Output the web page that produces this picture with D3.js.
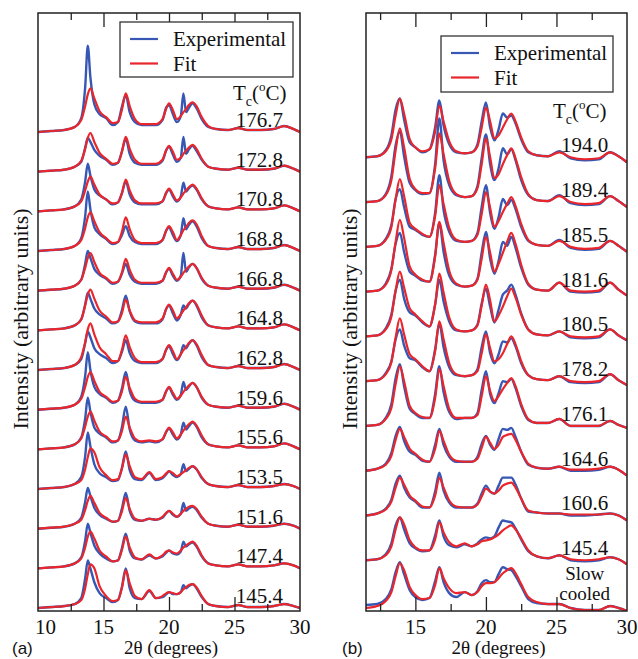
<!DOCTYPE html>
<html>
<head>
<meta charset="utf-8">
<script src="https://cdnjs.cloudflare.com/ajax/libs/d3/7.8.5/d3.min.js"></script>
<style>
  body { margin: 0; background: #fff; }
  svg { display: block; }
</style>
</head>
<body>
<div id="chart"></div>
<script>

// 2theta grid (degrees) for each panel
const gridA = [10, 11, 12, 12.8, 13.3, 13.6, 13.8, 14.0, 14.3, 14.7, 15.2, 15.7, 16.1, 16.4, 16.7, 17.0, 17.4, 17.9, 18.5, 19.0, 19.5, 19.8, 20.0, 20.3, 20.6, 20.9, 21.1, 21.3, 21.5, 21.8, 22.1, 22.5, 23.0, 23.6, 24.5, 25.3, 26.0, 27.0, 28.0, 28.8, 29.5, 30];
const gridB = [11.5, 12.3, 12.9, 13.3, 13.6, 13.9, 14.2, 14.6, 15.0, 15.5, 16.0, 16.4, 16.7, 17.0, 17.4, 17.9, 18.5, 19.0, 19.4, 19.7, 20.0, 20.3, 20.6, 20.9, 21.2, 21.5, 21.8, 22.1, 22.5, 23.0, 23.6, 24.4, 25.2, 26.0, 27.0, 28.0, 28.8, 29.4, 30.0];

const tempsA = ["176.7", "172.8", "170.8", "168.8", "166.8", "164.8", "162.8", "159.6", "155.6", "153.5", "151.6", "147.4", "145.4"];
const tempsB = ["194.0", "189.4", "185.5", "181.6", "180.5", "178.2", "176.1", "164.6", "160.6", "145.4", "Slow cooled"];

const ticksMajor = [15, 20, 25];
const ticksMinor = [12.5, 17.5, 22.5, 27.5];
const labelsA = [10, 15, 20, 25, 30];
const labelsB = [15, 20, 25, 30];

// intensities above each trace's own baseline (arbitrary units), top trace first
const fitA = [
  [0,1,2,5,12,26,38,44,34,21,15,9,10,22,39,26,13,8,8,8,13,24,29,22,13,16,20,23,27,30,26,15,6,3,2,4,2,2,3,6,3,0],
  [0,1,2,5,11,23,34,39,30,19,13,8,9,20,35,23,12,8,8,8,12,22,26,20,12,14,18,21,24,27,23,13,5,3,2,4,2,2,3,6,3,0],
  [0,1,2,5,10,21,30,35,27,17,12,8,9,18,32,21,11,8,8,8,10,19,23,17,11,14,18,21,24,27,23,13,5,3,2,4,2,2,3,6,3,0],
  [0,1,2,5,11,23,34,39,30,19,13,8,9,19,34,22,11,8,8,8,11,21,25,19,11,16,21,24,28,31,27,15,5,3,2,4,2,2,3,6,3,0],
  [0,1,2,5,11,23,33,38,29,18,13,8,9,18,32,21,11,8,8,8,10,19,23,17,11,14,18,21,24,27,23,13,5,3,2,4,2,2,3,6,3,0],
  [0,1,2,5,11,25,36,41,32,20,14,8,9,17,31,20,10,8,8,8,12,22,26,20,12,16,20,23,27,30,26,15,5,3,2,4,2,2,3,6,3,0],
  [0,1,2,5,13,28,41,47,36,23,16,9,9,20,35,23,12,8,8,8,11,21,25,19,11,16,20,23,27,30,26,15,5,3,2,4,2,2,3,6,3,0],
  [0,1,2,5,11,23,33,38,29,18,13,8,9,18,33,22,11,8,8,8,10,19,23,17,11,14,18,21,24,27,23,13,5,3,2,4,2,2,3,6,3,0],
  [0,1,2,5,11,23,33,38,29,18,13,8,9,18,33,22,11,8,9,8,10,18,22,17,11,15,19,22,25,28,24,14,5,3,2,4,2,2,3,6,3,0],
  [0,1,2,5,9,20,32,41,37,22,14,9,10,20,35,23,12,10,17,10,12,16,18,16,13,15,17,19,21,23,20,12,5,3,2,4,2,2,3,5,3,0],
  [0,1,2,5,9,19,28,33,26,16,11,7,8,17,31,20,10,8,10,9,12,16,18,15,12,15,18,20,22,23,20,12,5,3,2,4,2,2,3,5,3,0],
  [0,1,2,5,10,21,32,37,30,18,12,7,8,18,32,21,11,9,14,10,13,17,18,16,15,18,21,23,25,27,23,13,5,3,2,4,2,2,3,5,3,0],
  [0,1,2,4,8,20,34,44,40,22,12,7,8,20,38,25,12,9,18,10,12,15,16,15,14,16,19,21,23,24,21,12,4,2,1,3,1,1,2,4,2,0]
];

const expA = [
  [0,1,2,5,14,45,87,55,28,18,14,7,10,25,37,20,10,7,7,7,12,25,27,18,10,16,39,20,24,29,24,13,5,3,2,4,2,2,3,6,3,0],
  [0,1,2,5,10,24,34,30,22,16,12,7,9,20,33,18,9,7,7,7,11,22,25,17,10,14,35,18,22,26,21,12,5,3,2,4,2,2,3,6,3,0],
  [0,1,2,5,12,30,48,36,22,16,12,7,9,18,30,17,9,7,7,7,10,19,22,15,10,15,29,20,23,26,22,12,5,3,2,4,2,2,3,6,3,0],
  [0,1,2,5,13,35,60,42,24,17,12,7,9,16,25,15,9,7,7,7,11,21,24,16,10,16,33,22,26,30,25,13,5,3,2,4,2,2,3,6,3,0],
  [0,1,2,5,11,27,40,33,22,16,12,7,9,17,27,16,9,7,7,7,10,19,22,15,10,15,38,19,23,27,23,12,5,3,2,4,2,2,3,6,3,0],
  [0,1,2,5,11,26,38,32,22,16,12,7,9,20,35,19,9,7,7,7,11,22,25,17,10,16,25,22,26,30,25,13,5,3,2,4,2,2,3,6,3,0],
  [0,1,2,5,11,27,39,33,22,16,12,7,9,18,30,17,9,7,7,7,11,21,24,16,10,16,25,22,26,30,25,13,5,3,2,4,2,2,3,6,3,0],
  [0,1,2,5,13,34,58,40,23,16,12,7,9,21,38,19,9,7,7,7,10,19,22,15,10,15,28,20,23,27,23,12,5,3,2,4,2,2,3,6,3,0],
  [0,1,2,5,12,31,52,38,22,16,12,7,9,22,43,20,9,7,8,7,10,18,21,15,10,15,27,20,23,27,23,12,5,3,2,4,2,2,3,6,3,0],
  [0,1,2,5,12,33,57,43,25,16,12,8,9,21,38,19,10,9,16,9,11,15,18,14,12,15,25,18,20,23,20,11,5,3,2,4,2,2,3,5,3,0],
  [0,1,2,5,11,27,41,33,21,14,10,7,8,20,36,18,9,8,10,9,11,16,18,14,12,15,26,18,20,22,19,11,5,3,2,4,2,2,3,5,3,0],
  [0,1,2,5,11,28,45,36,23,15,10,7,8,20,35,18,10,9,13,10,12,16,18,15,14,17,27,22,24,26,22,12,5,3,2,4,2,2,3,5,3,0],
  [0,1,2,4,10,30,48,40,26,15,10,6,8,21,40,20,10,9,17,10,11,14,16,14,14,16,23,20,22,24,20,11,4,2,1,3,1,1,2,4,2,0]
];

const fitB = [
  [0,1,6,18,42,59,44,18,10,6,8,26,52,36,16,6,4,5,11,30,50,36,19,22,30,38,44,36,20,6,2,1,5,0,-2,-1,5,1,-5],
  [0,1,7,22,52,74,55,23,13,9,9,34,69,48,21,8,5,6,14,38,64,45,24,28,38,47,54,44,25,8,2,1,6,0,-2,-1,6,1,-5],
  [0,1,7,20,48,68,51,24,18,13,10,31,62,43,19,7,5,6,12,33,55,39,20,26,35,43,50,41,23,7,2,1,6,0,-2,-1,6,1,-5],
  [0,1,7,22,50,72,54,25,17,12,10,35,70,49,21,8,5,6,12,33,55,39,20,28,39,50,59,48,27,8,2,1,9,1,0,1,9,2,-4],
  [0,1,7,20,46,65,49,28,22,15,10,32,63,44,19,7,5,6,11,31,52,36,15,21,30,40,48,39,22,7,2,1,5,0,-1,0,7,1,-4],
  [0,1,7,19,44,63,47,27,22,15,10,30,60,42,18,7,5,6,10,28,47,33,20,22,28,37,45,37,20,6,2,1,5,0,-1,0,7,1,-4],
  [0,1,7,18,42,60,45,20,13,9,8,28,57,40,17,8,8,8,11,30,50,35,25,30,37,43,48,40,22,7,3,3,7,0,0,0,5,1,-2],
  [0,2,6,15,31,42,34,22,17,11,9,22,40,30,16,10,9,9,12,23,34,28,22,26,34,36,37,31,19,7,3,2,4,1,1,2,4,1,-5],
  [0,2,6,14,28,38,31,20,15,9,8,20,38,28,15,9,8,8,11,19,27,24,22,25,30,32,33,28,17,5,3,2,2,1,1,1,2,0,-5],
  [0,1,5,14,31,43,36,20,13,10,10,21,38,28,18,14,17,14,16,19,20,21,23,26,30,33,35,31,22,10,4,2,5,1,0,1,3,1,-4],
  [-3,-1,4,13,29,42,35,18,10,6,7,20,37,27,17,12,13,10,13,19,22,22,23,27,32,35,37,32,21,8,3,1,1,-3,-5,-5,-1,-3,-6]
];

const expB = [
  [0,1,7,22,48,59,38,15,10,5,8,30,57,32,13,5,4,5,13,36,55,30,17,28,44,40,42,34,18,5,2,1,6,-1,-3,-2,5,1,-5],
  [0,1,8,26,57,71,46,19,12,8,9,38,84,42,17,7,5,6,16,44,68,38,22,34,54,48,53,42,22,7,2,1,7,-1,-3,-2,6,1,-5],
  [0,1,8,22,48,58,40,20,17,12,10,34,72,37,15,6,5,6,14,40,62,34,18,30,48,42,47,38,20,6,2,1,7,-1,-3,-2,6,1,-5],
  [0,1,8,23,48,59,40,20,16,11,10,37,69,40,16,7,5,6,13,39,60,33,18,31,50,46,55,44,24,7,2,1,9,0,-1,0,9,2,-4],
  [0,1,8,22,46,57,38,24,21,14,10,32,57,35,15,6,5,6,12,33,48,30,14,27,42,46,52,42,23,7,2,1,5,-1,-2,-1,7,1,-4],
  [0,1,8,20,42,52,36,23,21,14,10,32,58,34,14,6,5,6,12,34,50,28,18,27,40,39,43,35,18,6,2,1,5,-1,-2,-1,7,1,-4],
  [0,1,8,22,48,62,40,17,12,8,8,32,60,34,14,7,8,8,13,36,55,32,23,33,45,44,47,38,20,6,3,3,7,0,0,0,5,1,-2],
  [0,2,7,18,35,44,30,19,16,10,9,26,42,26,14,9,9,9,14,27,35,26,21,32,42,41,43,34,19,6,3,2,4,0,0,1,4,1,-5],
  [0,2,7,16,32,40,28,18,14,8,8,24,43,25,13,8,8,8,12,22,30,24,22,30,38,38,38,31,17,4,3,2,2,0,0,1,2,0,-5],
  [0,1,6,17,35,43,31,17,12,9,10,25,40,24,15,13,16,14,17,21,23,22,24,33,40,39,38,32,21,9,4,2,5,0,-1,0,3,1,-4],
  [0,1,6,16,33,43,31,15,8,5,7,24,38,23,12,8,13,10,14,22,25,23,23,31,38,36,35,29,19,6,2,1,1,-3,-5,-5,-1,-3,-6]
];

const BLUE = "#3757b4";
const RED = "#e8262b";
const SERIF = "'Liberation Serif', 'DejaVu Serif', 'Times New Roman', Times, serif";
const SANS = "'Liberation Sans', Arial, sans-serif";

const W = 638, H = 659;
const TOP = 13, BOTTOM = 611;

const svg = d3.select('#chart')
  .append('svg')
  .attr('width', W)
  .attr('height', H)
  .attr('font-family', SERIF);

function label(g) {
  return g.append('text').attr('font-family', SERIF).attr('fill', '#111');
}

function drawPanel(p) {
  const g = svg.append('g');

  const x = d3.scaleLinear().domain(p.xDomain).range([p.left, p.right]);
  const y = d3.scaleLinear().domain(p.yDomain).range([BOTTOM, TOP]);

  g.append('clipPath').attr('id', p.id + '-clip')
    .append('rect')
    .attr('x', p.left).attr('y', TOP)
    .attr('width', p.right - p.left).attr('height', BOTTOM - TOP);

  const plot = g.append('g').attr('clip-path', 'url(#' + p.id + '-clip)');
  const n = p.temps.length;

  p.temps.forEach((t, i) => {
    const off = (n - 1 - i) * p.step;
    const line = d3.line()
      .x(d => x(d[0]))
      .y(d => y(off + d[1]))
      .curve(d3.curveMonotoneX);

    const blue = p.grid.map((gx, j) => [gx, p.exp[i][j]]);
    const red = p.grid.map((gx, j) => [gx, p.fit[i][j]]);

    plot.append('path').attr('d', line(blue))
      .attr('fill', 'none').attr('stroke', BLUE).attr('stroke-width', 2.4)
      .attr('stroke-linejoin', 'round');
    plot.append('path').attr('d', line(red))
      .attr('fill', 'none').attr('stroke', RED).attr('stroke-width', 2.2)
      .attr('stroke-linejoin', 'round');

    // temperature label
    const lines = t.split(' ');
    lines.forEach((s, k) => {
      label(g)
        .attr('x', x(p.labelX))
        .attr('y', y(off) - p.labelLift - (lines.length - 1 - k) * 20)
        .attr('text-anchor', 'middle')
        .attr('font-size', lines.length > 1 ? 19 : 21)
        .text(s);
    });
  });

  // ticks, bottom and top, pointing inward
  const tick = (vals, len) => {
    g.append('g').attr('transform', 'translate(0,' + BOTTOM + ')')
      .call(d3.axisBottom(x).tickValues(vals).tickSize(-len).tickFormat(''))
      .call(a => a.select('.domain').remove())
      .call(a => a.selectAll('line').attr('stroke', '#222').attr('stroke-width', 1.3));
    g.append('g').attr('transform', 'translate(0,' + TOP + ')')
      .call(d3.axisTop(x).tickValues(vals).tickSize(-len).tickFormat(''))
      .call(a => a.select('.domain').remove())
      .call(a => a.selectAll('line').attr('stroke', '#222').attr('stroke-width', 1.3));
  };
  tick(ticksMajor, 14);
  tick(ticksMinor, 7);

  // frame
  g.append('rect')
    .attr('x', p.left).attr('y', TOP)
    .attr('width', p.right - p.left).attr('height', BOTTOM - TOP)
    .attr('fill', 'none').attr('stroke', '#222').attr('stroke-width', 1.5);

  // tick labels
  p.tickLabels.forEach(v => {
    const first = v === p.xDomain[0];
    label(g)
      .attr('x', first ? x(v) - 3 : x(v))
      .attr('y', 634)
      .attr('text-anchor', first ? 'start' : 'middle')
      .attr('font-size', 21)
      .text(v);
  });

  // axis title
  label(g)
    .attr('x', (p.left + p.right) / 2 + 2)
    .attr('y', 654)
    .attr('text-anchor', 'middle')
    .attr('font-size', 19)
    .text('2θ (degrees)');

  g.append('text')
    .attr('x', p.tagX)
    .attr('y', 654)
    .attr('font-family', SANS)
    .attr('font-size', 17)
    .attr('fill', '#111')
    .text(p.tag);

  // y label
  label(g)
    .attr('transform', 'translate(' + p.yLabelX + ',319) rotate(-90)')
    .attr('text-anchor', 'middle')
    .attr('font-size', 22)
    .text('Intensity (arbitrary units)');

  // T_c (oC)
  const tc = label(g)
    .attr('x', p.tcX).attr('y', p.tcY)
    .attr('font-size', 21);
  tc.append('tspan').text('T');
  tc.append('tspan').attr('dy', 6).attr('font-size', 14).text('c');
  tc.append('tspan').attr('dy', -6).text('(');
  tc.append('tspan').attr('dy', -9).attr('font-size', 13).text('o');
  tc.append('tspan').attr('dy', 9).text('C)');

  // legend
  const L = p.legend;
  g.append('rect')
    .attr('x', L.x).attr('y', L.y).attr('width', L.w).attr('height', L.h)
    .attr('fill', '#fff').attr('stroke', '#333').attr('stroke-width', 1.3);
  [['Experimental', BLUE], ['Fit', RED]].forEach((e, k) => {
    const ly = L.y + 17 + k * 24.5;
    g.append('line')
      .attr('x1', L.x + 10).attr('x2', L.x + 38)
      .attr('y1', ly).attr('y2', ly)
      .attr('stroke', e[1]).attr('stroke-width', 2.2);
    label(g)
      .attr('x', L.x + 53).attr('y', ly + 7)
      .attr('font-size', 21)
      .text(e[0]);
  });
}

drawPanel({
  id: 'pa', left: 38, right: 300,
  xDomain: [10, 30], yDomain: [-3, 600], step: 40,
  grid: gridA, fit: fitA, exp: expA, temps: tempsA,
  labelX: 26.9, labelLift: 5,
  tickLabels: labelsA, tag: '(a)', tagX: 12, yLabelX: 28,
  tcX: 233, tcY: 100,
  legend: { x: 120, y: 22, w: 173, h: 55 }
});

drawPanel({
  id: 'pb', left: 366, right: 627,
  xDomain: [11.5, 30], yDomain: [-6, 595], step: 45,
  grid: gridB, fit: fitB, exp: expB, temps: tempsB,
  labelX: 27.0, labelLift: 5,
  tickLabels: labelsB, tag: '(b)', tagX: 342, yLabelX: 357,
  tcX: 553, tcY: 118,
  legend: { x: 441, y: 36, w: 172, h: 56 }
});

</script>
</body>
</html>
